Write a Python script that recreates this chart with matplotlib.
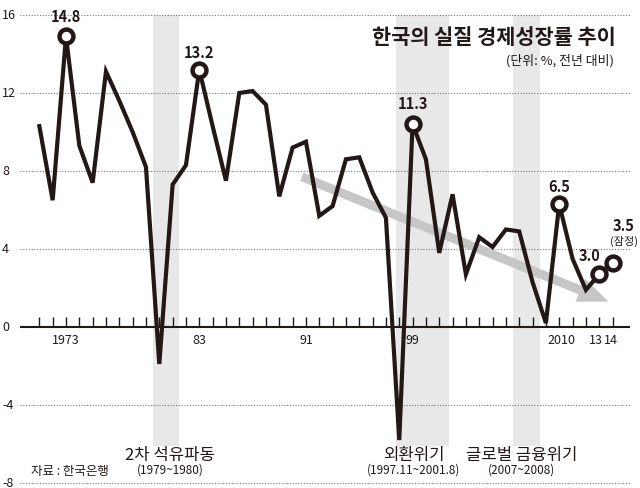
import numpy as np
import matplotlib
matplotlib.use('Agg')
import matplotlib.pyplot as plt
import matplotlib.transforms as mtransforms

plt.rcParams['font.family'] = ['Noto Sans CJK KR', 'DejaVu Sans']

# real GDP growth, % (as drawn)
years = list(range(1971, 2015))
growth = [10.3, 6.5, 14.9, 9.3, 7.4, 13.1, 11.6, 10.0, 8.2, -1.9,
          7.3, 8.3, 13.2, 10.3, 7.5, 12.0, 12.1, 11.4, 6.7, 9.2,
          9.5, 5.7, 6.2, 8.6, 8.7, 6.9, 5.6, -5.8, 10.4, 8.6,
          3.8, 6.8, 2.7, 4.6, 4.1, 5.0, 4.9, 2.3, 0.2, 6.3,
          3.5, 1.9, 2.7, 3.3]

# highlighted points
mark_years = [1973, 1983, 1999, 2010, 2013, 2014]
mark_labels = ['14.8', '13.2', '11.3', '6.5', '3.0', '3.5']

xtick_years = [1973, 1983, 1991, 1999, 2010, 2013, 2014]
xtick_labels = ['1973', '83', '91', '99', '2010', '13', '14']
ytick_vals = [16, 12, 8, 4, 0, -4, -8]

# crisis periods (shaded)
crisis_spans = [(1979.55, 1981.45), (1997.75, 2001.7), (2006.55, 2008.55)]
crisis_names = ['2차 석유파동', '외환위기', '글로벌 금융위기']
crisis_dates = ['(1979~1980)', '(1997.11~2001.8)', '(2007~2008)']
crisis_label_x = [1980.8, 1999.1, 2007.2]

trend_start = (1990.7, 7.7)
trend_end = (2013.7, 1.3)

ink = '#231815'

fig = plt.figure(figsize=(6.4, 4.89), dpi=100)
ax = fig.add_axes([20 / 640, 0, 610 / 640, 1])
ax.set_xlim(1969.55, 2015.31)
ax.set_ylim(-8.26, 16.82)
ax.axis('off')

# grid
for v in ytick_vals:
    if v != 0:
        ax.axhline(v, color='#777777', lw=0.8, ls=(0, (1, 1.5)), zorder=1)

for a, b in crisis_spans:
    ax.axvspan(a, b, ymin=(-6.1 + 8.26) / 25.08, ymax=(16.0 + 8.26) / 25.08,
               color='#e8e8e8', lw=0, zorder=0)

# trend arrow
ax.annotate('', xy=trend_end, xytext=trend_start,
            arrowprops=dict(arrowstyle='simple,head_length=2.2,head_width=1.8,tail_width=0.65',
                            color='#c6c6c6', lw=0, shrinkA=0, shrinkB=0),
            zorder=2)

# zero axis and year ticks
ax.axhline(0, color=ink, lw=1.5, zorder=3)
ax.vlines(years, 0, 0.52, color=ink, lw=1.0, zorder=3)

ax.plot(years, growth, color=ink, lw=3.0, solid_joinstyle='miter', zorder=4)

mx = [years.index(y) for y in mark_years]
ax.plot(mark_years, [growth[i] for i in mx], 'o', ms=10, mfc='white',
        mec=ink, mew=3.2, zorder=5)

offsets = [(0, 15), (0, 13), (0, 15), (0, 13), (-7, 14), (8, 27)]
for yr, lab, off in zip(mark_years, mark_labels, offsets):
    ax.annotate(lab, xy=(yr, growth[years.index(yr)]), xytext=off,
                textcoords='offset points', ha='center', va='center',
                fontsize=10.5, fontweight='bold', color=ink, zorder=6)
ax.annotate('(잠정)', xy=(2014, growth[-1]), xytext=(8, 16),
            textcoords='offset points', ha='center', va='center',
            fontsize=8, color=ink, zorder=6)

tick_shift = [0, 0, 0, 0, 1.5, -2.5, -1]
for x, lab, dx in zip(xtick_years, xtick_labels, tick_shift):
    ax.annotate(lab, xy=(x, -0.62), xytext=(dx, 0), textcoords='offset points',
                ha='center', va='center', fontsize=9, color=ink)

trans = mtransforms.blended_transform_factory(fig.transFigure, ax.transData)
for v in ytick_vals:
    ax.text(2 / 640, v, str(v), transform=trans, ha='left', va='center',
            fontsize=9, color=ink)

for x, name, dates in zip(crisis_label_x, crisis_names, crisis_dates):
    ax.text(x, -6.55, name, ha='center', va='center', fontsize=12, color=ink)
    ax.text(x, -7.3, dates, ha='center', va='center', fontsize=8.5, color=ink)

ax.text(1973.3, -7.35, '자료 : 한국은행', ha='center', va='center',
        fontsize=9, color=ink)

ax.text(2014.26, 14.92, '한국의 실질 경제성장률 추이', ha='right', va='center',
        fontsize=15, fontweight='bold', color=ink)
ax.text(2014.1, 13.7, '(단위: %, 전년 대비)', ha='right', va='center',
        fontsize=9.3, color=ink)

fig.savefig('out.png', dpi=100)
